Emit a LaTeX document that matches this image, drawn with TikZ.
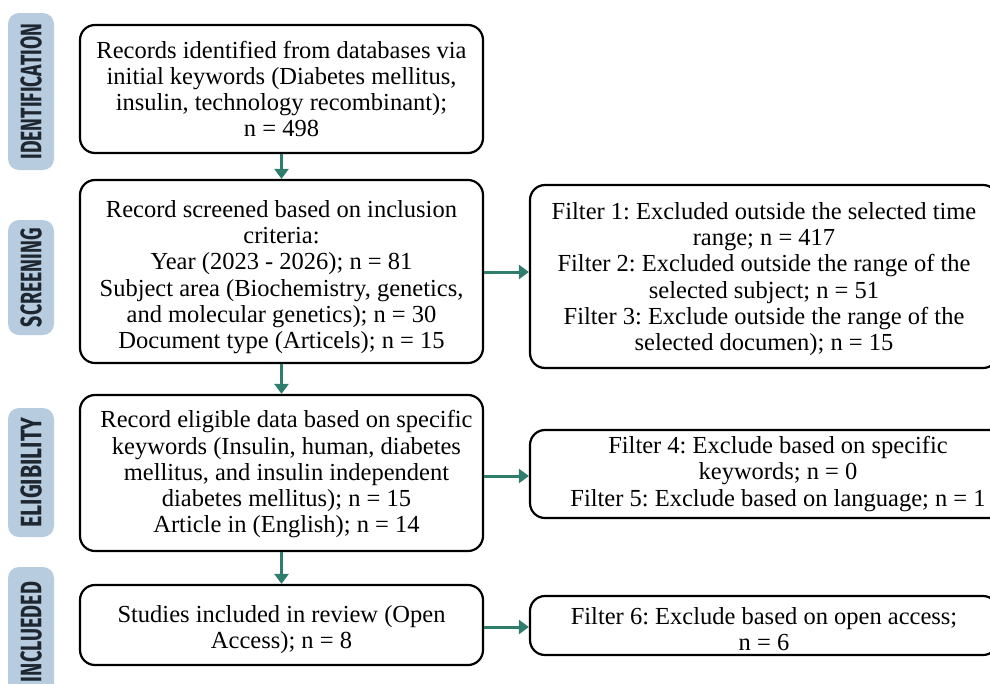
\documentclass[tikz,border=0pt]{standalone}
\usepackage{fontspec}
\setmainfont{Liberation Serif}
\newfontfamily\phasefont{Fira Sans}
\usetikzlibrary{arrows.meta}
\definecolor{flowteal}{HTML}{2E7D6D}
\definecolor{phasefill}{HTML}{B8CCE0}
\definecolor{phaseink}{HTML}{1E2630}
\tikzset{
  x=1pt, y=-1pt,
  stagebox/.style={draw=black, line width=2.2pt, rounded corners=15pt, fill=white,
    align=center, inner sep=0pt,
    font=\fontsize{24.5}{26.3}\selectfont\frenchspacing},
  phasepill/.style={fill=phasefill, rounded corners=11pt, rotate=90, inner sep=0pt,
    minimum height=46pt, text=phaseink},
  flowarrow/.style={draw=flowteal, line width=3pt,
    -{Triangle[width=14pt,length=10pt]}}
}
\newcommand{\phasetext}[2]{\resizebox{#1pt}{21pt}{\phasefont\bfseries #2}}
% strut that lowers a centred text block by half its height
\newcommand{\lowerby}[1]{\rule{0pt}{\dimexpr 18pt+#1\relax}}
\begin{document}
\begin{tikzpicture}
\useasboundingbox (0,0) rectangle (990,683);
\clip (0,0) rectangle (990,683);

% phase labels
\node[phasepill, minimum width=157pt] (pid) at (31,91.5) {\phasetext{136}{IDENTIFICATION}};
\node[phasepill, minimum width=115pt] (psc) at (31,277.5) {\phasetext{99}{SCREENING}};
\node[phasepill, minimum width=129pt] (pel) at (31,472.5) {\phasetext{110}{ELIGIBILITY}};
\node[phasepill, minimum width=130pt] (pin) at (31,632) {\phasetext{100}{INCLUEDED}};

% main column
\node[stagebox, minimum width=403pt, minimum height=128pt] (b1) at (281.5,89)
  {Records identified from databases via\\
   initial keywords (Diabetes mellitus,\\
   insulin, technology recombinant);\\
   n = 498};
\node[stagebox, minimum width=403pt, minimum height=183pt] (b2) at (281.5,271.5)
  {\lowerby{10pt}Record screened based on inclusion\\
   criteria:\\
   Year (2023 - 2026); n = 81\\
   Subject area (Biochemistry, genetics,\\
   and molecular genetics); n = 30\\
   Document type (Articels); n = 15};
\node[stagebox, minimum width=403pt, minimum height=156pt] (b3) at (281.5,473)
  {\lowerby{2pt}\hspace*{10pt}Record eligible data based on specific\\
   \hspace*{10pt}keywords (Insulin, human, diabetes\\
   \hspace*{10pt}mellitus, and insulin independent\\
   \hspace*{10pt}diabetes mellitus); n = 15\\
   \hspace*{10pt}Article in (English); n = 14};
\node[stagebox, minimum width=403pt, minimum height=80pt] (b4) at (281.5,625)
  {\lowerby{8pt}Studies included in review (Open\\
   Access); n = 8};

% exclusion column
\node[stagebox, minimum width=468pt, minimum height=183pt] (r1) at (764,276.5)
  {\lowerby{4pt}Filter 1: Excluded outside the selected time\\
   range; n = 417\\
   Filter 2: Excluded outside the range of the\\
   selected subject; n = 51\\
   Filter 3: Exclude outside the range of the\\
   selected documen); n = 15};
\node[stagebox, minimum width=496pt, minimum height=88pt] (r2) at (778,474)
  {Filter 4: Exclude based on specific\\
   keywords; n = 0\\
   Filter 5: Exclude based on language; n = 1};
\node[stagebox, minimum width=468pt, minimum height=59pt] (r3) at (764,625.5)
  {\lowerby{6pt}Filter 6: Exclude based on open access;\\
   n = 6};

% connectors
\draw[flowarrow] (b1.south) -- (b2.north);
\draw[flowarrow] (b2.south) -- (b3.north);
\draw[flowarrow] (b3.south) -- (b4.north);
\draw[flowarrow] ([yshift=-0.5pt]b2.east) -- ([yshift=-0.5pt]b2.east -| r1.west);
\draw[flowarrow] ([yshift=-3pt]b3.east) -- ([yshift=-3pt]b3.east -| r2.west);
\draw[flowarrow] ([yshift=-2pt]b4.east) -- ([yshift=-2pt]b4.east -| r3.west);
\end{tikzpicture}
\end{document}
